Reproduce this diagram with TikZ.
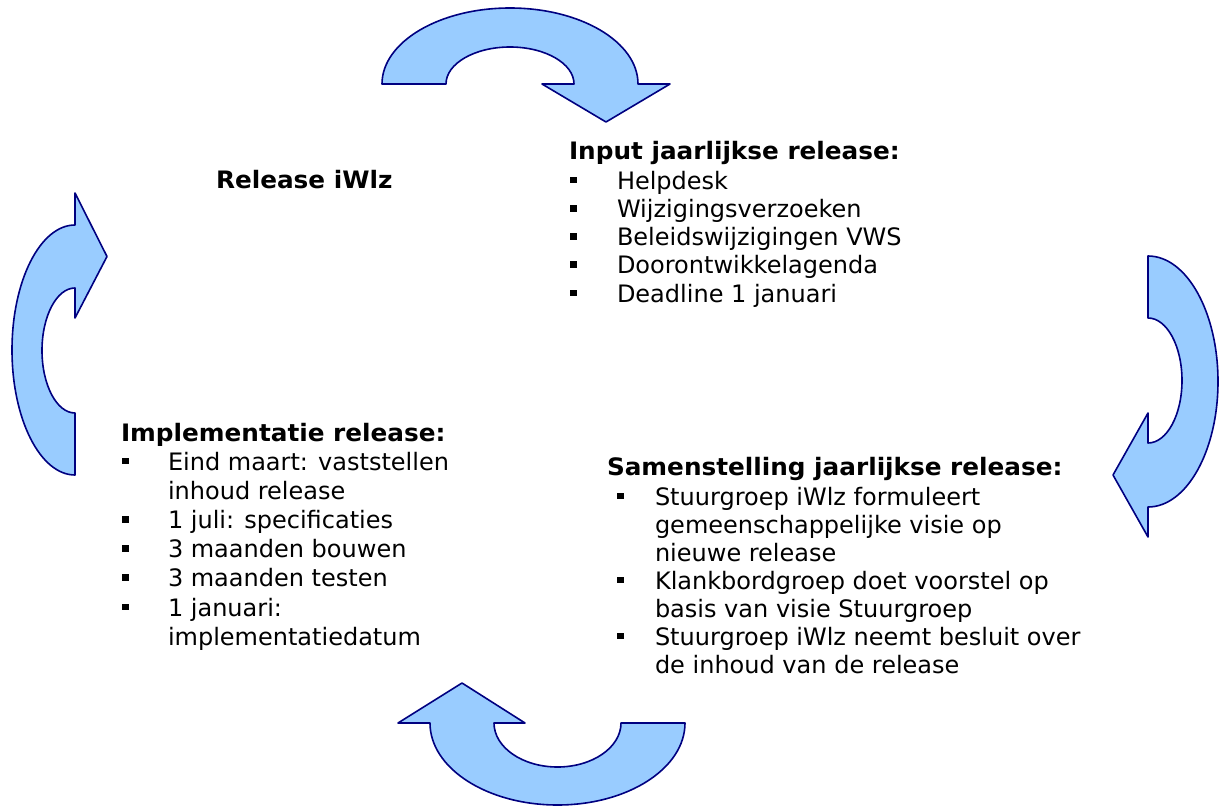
\documentclass[tikz,border=0pt]{standalone}
\usepackage{fontspec}
\setmainfont{DejaVu Sans}[BoldFeatures={FakeStretch=1.03}]
\definecolor{arrowfill}{HTML}{99CCFF}
\definecolor{arrowline}{HTML}{000080}
\tikzset{
  cyclearrow/.style={fill=arrowfill, draw=arrowline, line width=1.6bp, line join=round},
  txt/.style={anchor=base west, inner sep=0pt, outer sep=0pt, font=\fontsize{24bp}{28.3bp}\selectfont},
  hdr/.style={anchor=base west, inner sep=0pt, outer sep=0pt, font=\fontsize{24bp}{28.3bp}\selectfont\bfseries},
}
\newcommand{\sqbul}[1]{\makebox[#1][l]{\raisebox{5.7bp}{\rule{6.8bp}{6.8bp}}}}
\newcommand{\contind}[1]{\hspace*{#1}}
\begin{document}
\begin{tikzpicture}[x=1bp,y=-1bp]
\useasboundingbox (0,0) rectangle (1224,808);
% top arrow
\draw[cyclearrow] (382,84) arc[start angle=180,end angle=0,x radius=128bp,y radius=76bp]
  -- (670,84) -- (606,122) -- (542,84) -- (574,84)
  arc[start angle=0,end angle=180,x radius=64bp,y radius=37bp] -- cycle;
% right arrow
\draw[cyclearrow] (1148,256) arc[start angle=90,end angle=-90,x radius=70bp,y radius=125.5bp]
  -- (1148,537) -- (1113,475) -- (1148,413) -- (1148,443)
  arc[start angle=-90,end angle=90,x radius=34bp,y radius=62.5bp] -- cycle;
% bottom arrow
\draw[cyclearrow] (685,723) arc[start angle=0,end angle=-180,x radius=127.5bp,y radius=82bp]
  -- (398,723) -- (462,683) -- (525,723) -- (494,723)
  arc[start angle=180,end angle=360,x radius=63.5bp,y radius=44bp] -- cycle;
% left arrow
\draw[cyclearrow] (75,475) arc[start angle=-90,end angle=-270,x radius=63bp,y radius=125bp]
  -- (75,193) -- (107,256.5) -- (75,318) -- (75,288)
  arc[start angle=90,end angle=270,x radius=33bp,y radius=62.5bp] -- cycle;

\node[hdr] (title) at (216,188) {Release iWlz};

\node[hdr] (inputh) at (569,159) {Input jaarlijkse release:};
\node[txt] (inputl) at (570,189) {\vtop{\baselineskip=28.25bp
  \hbox{\sqbul{47bp}Helpdesk}
  \hbox{\sqbul{47bp}Wijzigingsverzoeken}
  \hbox{\sqbul{47bp}Beleidswijzigingen VWS}
  \hbox{\sqbul{47bp}Doorontwikkelagenda}
  \hbox{\sqbul{47bp}Deadline 1 januari}}};

\node[hdr] (implh) at (121,441) {Implementatie release:};
\node[txt] (impll) at (122,470) {\vtop{\baselineskip=29.2bp
  \hbox{\sqbul{46bp}Eind maart: vaststellen}
  \hbox{\contind{46bp}inhoud release}
  \hbox{\sqbul{46bp}1 juli: specificaties}
  \hbox{\sqbul{46bp}3 maanden bouwen}
  \hbox{\sqbul{46bp}3 maanden testen}
  \hbox{\sqbul{46bp}1 januari:}
  \hbox{\contind{46bp}implementatiedatum}}};

\node[hdr] (samenh) at (607,475) {Samenstelling jaarlijkse release:};
\node[txt] (samenl) at (617,505) {\vtop{\baselineskip=28bp
  \hbox{\sqbul{38bp}Stuurgroep iWlz formuleert}
  \hbox{\contind{38bp}gemeenschappelijke visie op}
  \hbox{\contind{38bp}nieuwe release}
  \hbox{\sqbul{38bp}Klankbordgroep doet voorstel op}
  \hbox{\contind{38bp}basis van visie Stuurgroep}
  \hbox{\sqbul{38bp}Stuurgroep iWlz neemt besluit over}
  \hbox{\contind{38bp}de inhoud van de release}}};
\end{tikzpicture}
\end{document}
